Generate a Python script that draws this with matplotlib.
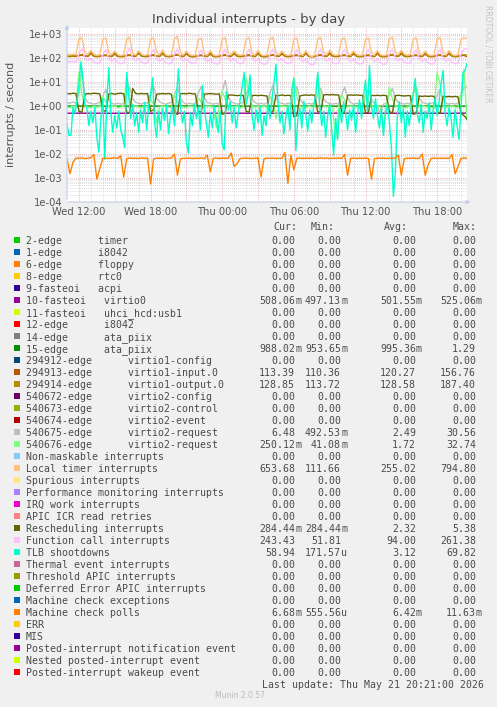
import numpy as np
import matplotlib
matplotlib.use('Agg')
import matplotlib.pyplot as plt
from matplotlib.patches import Rectangle

# ---- data (hours since Wed 00:00) ----
t15 = 11 + 0.25 * np.arange(135)      # 15 min samples
t10 = 11 + np.arange(202) / 6.0       # 10 min samples
tc = [11, 13, 15, 17, 19, 21, 23, 25, 27, 29, 31, 33, 35, 37, 39, 41, 43, 44.5]

virtio0 = [0.50, 0.502, 0.498, 0.501, 0.503, 0.499, 0.500, 0.502, 0.497,
           0.501, 0.500, 0.503, 0.499, 0.501, 0.500, 0.502, 0.498, 0.508]
ata_piix = [0.99, 1.0, 0.98, 1.0, 0.99, 1.01, 0.99, 1.0, 0.98,
            0.99, 1.0, 0.99, 1.0, 0.98, 0.99, 1.0, 0.99, 0.988]

virtio1_in = [116, 114, 117, 115,
    126, 130, 119, 115, 152, 117, 113, 116,
    123, 127, 117, 114, 145, 116, 112, 114,
    125, 129, 118, 115, 156.76, 118, 113, 115,
    124, 128, 119, 114, 148, 117, 112, 115,
    127, 133, 118, 113, 150, 116, 111, 114,
    122, 126, 117, 114, 146, 115, 112, 115,
    125, 129, 118, 115, 151, 117, 113, 116,
    123, 128, 117, 113, 149, 116, 111, 114,
    126, 130, 119, 115, 147, 117, 112, 115,
    124, 127, 118, 114, 153, 116, 110.4, 114,
    125, 129, 118, 115, 150, 117, 113, 115,
    123, 128, 117, 114, 148, 116, 112, 114,
    124, 127, 118, 113, 151, 115, 111, 114,
    126, 131, 119, 115, 149, 117, 113, 116,
    123, 128, 117, 114, 146, 116, 112, 115,
    125, 129, 118, 114, 152, 117, 112, 115,
    124, 128, 113.39]

virtio1_out = [122, 120, 124, 121,
    134, 140, 125, 120, 172, 123, 117, 121,
    131, 137, 124, 119, 168, 122, 116, 120,
    133, 139, 126, 121, 187.4, 124, 118, 122,
    132, 138, 125, 119, 170, 123, 117, 120,
    136, 143, 124, 118, 175, 122, 115, 119,
    130, 136, 123, 119, 166, 121, 116, 120,
    134, 140, 125, 120, 173, 123, 117, 121,
    131, 138, 124, 118, 169, 122, 114, 119,
    133, 139, 126, 120, 171, 124, 117, 121,
    132, 137, 125, 119, 176, 122, 113.7, 119,
    134, 140, 125, 120, 170, 123, 117, 121,
    131, 138, 124, 119, 168, 122, 116, 120,
    132, 137, 124, 118, 172, 121, 115, 119,
    135, 141, 126, 120, 174, 124, 118, 122,
    131, 137, 124, 119, 167, 122, 116, 120,
    133, 139, 125, 119, 173, 123, 117, 121,
    132, 138, 128.85]

virtio2_req_a = [1.4, 1.3, 1.5, 1.3,
    3.5, 30.56, 2.2, 1.4, 1.3, 1.2, 1.3, 1.4,
    2.5, 5.0, 1.8, 1.3, 1.2, 1.3, 1.2, 1.3,
    3.0, 6.0, 2.0, 1.4, 1.3, 1.2, 1.4, 1.3,
    3.2, 6.8, 2.1, 1.5, 1.3, 1.2, 1.3, 1.4,
    3.0, 6.0, 2.0, 1.4, 1.2, 1.3, 1.2, 1.3,
    3.5, 6.5, 2.2, 1.4, 1.3, 1.2, 1.3, 1.2,
    4.0, 11.5, 2.5, 1.5, 1.3, 1.2, 1.3, 1.4,
    3.0, 6.0, 1.9, 1.4, 1.2, 1.3, 1.2, 1.3,
    3.5, 7.2, 2.1, 1.4, 1.3, 1.2, 1.3, 1.3,
    3.0, 6.5, 2.0, 1.3, 1.2, 1.3, 1.2, 1.4,
    2.8, 5.5, 1.9, 1.4, 1.3, 1.2, 1.3, 1.2,
    3.0, 6.0, 2.2, 1.4, 1.2, 1.3, 1.2, 1.3,
    2.8, 5.0, 1.8, 1.3, 0.9, 0.49, 1.2, 1.3,
    3.0, 5.5, 2.0, 1.4, 1.3, 1.2, 1.3, 1.2,
    3.2, 6.0, 2.1, 1.4, 1.3, 1.2, 1.3, 1.4,
    2.8, 5.0, 1.9, 1.3, 1.2, 1.3, 1.2, 1.3,
    3.0, 5.5, 6.48]

virtio2_req_b = [0.9, 0.85, 1.0, 0.9,
    26, 3.0, 1.0, 0.9, 0.85, 1.0, 0.9, 0.95,
    2.5, 1.5, 0.9, 0.95, 1.0, 0.85, 0.9, 1.0,
    16, 2.0, 0.95, 1.0, 0.9, 0.85, 1.0, 0.9,
    1.8, 1.2, 0.2, 0.9, 1.0, 0.95, 0.9, 0.85,
    3.0, 1.5, 1.0, 0.9, 0.85, 1.0, 0.95, 0.9,
    2.2, 1.4, 0.9, 1.0, 0.95, 0.9, 0.12, 0.9,
    4.0, 2.0, 1.0, 0.95, 0.9, 1.0, 0.85, 0.9,
    15, 3.0, 1.0, 0.9, 0.95, 0.9, 1.0, 0.85,
    2.5, 1.6, 0.3, 0.9, 1.0, 0.95, 0.9, 1.0,
    16, 2.5, 0.95, 0.9, 0.85, 1.0, 0.9, 0.95,
    20, 2.2, 1.0, 0.9, 0.95, 0.85, 0.041, 0.9,
    3.0, 1.8, 0.9, 1.0, 0.95, 0.9, 1.0, 0.85,
    2.5, 1.5, 0.95, 0.9, 1.0, 0.9, 0.15, 0.95,
    6.0, 2.0, 1.0, 0.9, 0.95, 0.85, 0.9, 1.0,
    3.5, 6.0, 0.9, 1.0, 0.95, 0.9, 0.85, 0.9,
    25, 8.0, 1.0, 0.9, 0.95, 1.0, 0.9, 0.85,
    3.0, 32.74, 0.25]

local_timer = [150, 138, 145, 142,
    620, 700, 170, 140, 210, 145, 130, 142,
    590, 680, 165, 138, 195, 140, 126, 136,
    610, 720, 160, 132, 200, 142, 129, 140,
    600, 690, 175, 136, 215, 138, 125, 137,
    640, 794.8, 168, 134, 190, 141, 127, 139,
    580, 670, 160, 131, 205, 136, 124, 135,
    605, 700, 172, 137, 198, 144, 130, 141,
    595, 685, 158, 133, 208, 139, 126, 136,
    615, 710, 166, 135, 192, 142, 128, 138,
    590, 675, 163, 130, 200, 137, 111.7, 134,
    610, 705, 170, 136, 212, 143, 129, 140,
    600, 690, 162, 134, 196, 140, 127, 137,
    585, 680, 168, 132, 204, 138, 125, 135,
    620, 715, 174, 138, 210, 145, 131, 142,
    598, 688, 160, 133, 194, 139, 126, 136,
    612, 702, 167, 135, 202, 141, 128, 139,
    600, 695, 653.68]

resched = [3.3, 3.2, 3.4, 3.3,
    0.6, 0.55, 3.1, 3.3, 3.2, 3.4, 3.3, 3.2,
    0.65, 0.6, 3.2, 3.3, 3.1, 3.3, 3.4, 3.2,
    0.55, 0.5, 5.38, 3.3, 3.2, 3.3, 3.2, 3.3,
    0.6, 0.7, 3.1, 3.2, 3.3, 3.2, 3.3, 3.1,
    0.5, 0.45, 3.2, 3.3, 3.2, 3.4, 3.2, 3.2,
    0.6, 0.55, 3.1, 3.2, 3.3, 3.2, 3.1, 3.2,
    0.45, 0.5, 2.8, 2.9, 2.8, 2.7, 2.8, 2.8,
    0.6, 0.55, 2.7, 2.8, 2.7, 2.8, 2.7, 2.6,
    0.5, 0.6, 2.8, 2.7, 2.9, 2.7, 2.8, 2.7,
    0.35, 0.4, 2.6, 2.8, 2.9, 2.8, 2.9, 2.8,
    0.55, 0.6, 2.9, 3.0, 2.9, 3.0, 2.9, 2.9,
    0.6, 0.5, 2.8, 2.9, 2.8, 2.9, 2.8, 2.8,
    0.5, 0.55, 2.8, 2.7, 2.8, 2.7, 2.8, 2.7,
    0.6, 0.5, 2.7, 2.8, 2.7, 2.6, 2.7, 2.7,
    0.45, 0.5, 2.6, 2.5, 2.6, 2.5, 2.6, 2.5,
    0.55, 0.5, 2.5, 2.4, 2.5, 2.4, 2.5, 2.4,
    0.5, 0.4, 0.284]

func_call = [75, 70, 72, 68,
    160, 245, 100, 78, 95, 68, 60, 63,
    140, 225, 95, 74, 90, 66, 58, 61,
    155, 261.38, 98, 76, 92, 67, 59, 62,
    145, 230, 92, 73, 88, 65, 57, 60,
    150, 240, 96, 75, 94, 68, 58, 62,
    138, 220, 90, 72, 87, 64, 56, 59,
    148, 235, 94, 74, 91, 66, 57, 61,
    142, 228, 92, 73, 89, 63, 55, 58,
    152, 238, 97, 75, 93, 67, 58, 62,
    140, 222, 91, 72, 86, 62, 51.8, 57,
    150, 236, 95, 74, 92, 66, 57, 60,
    143, 228, 93, 73, 88, 64, 56, 59,
    145, 230, 94, 72, 90, 63, 55, 58,
    155, 242, 98, 76, 95, 67, 58, 62,
    140, 225, 91, 72, 87, 63, 56, 58,
    148, 234, 95, 74, 91, 65, 57, 60,
    150, 238, 243.43]

tlb = [0.18, 0.06, 0.06, 0.9, 0.5, 1.5, 8, 69.82, 12, 1.2,
       0.8, 0.15, 0.6, 0.2, 0.9, 0.05, 0.012, 0.3, 2.0, 0.006,
       1.5, 40, 0.5, 0.08, 0.4, 0.12, 0.6, 0.1, 0.05, 0.018,
       25, 3, 0.3, 1.2, 0.15, 0.5, 0.08, 0.7, 0.2, 1.4,
       0.1, 0.9, 3, 15, 0.2, 0.05, 0.6, 0.1, 0.8, 0.25,
       1.1, 0.07, 0.4, 0.9, 0.15, 2.5, 35, 1.0, 0.2, 0.6,
       0.03, 0.011, 0.5, 0.15, 1.2, 0.3, 0.9, 0.1, 7, 0.8,
       0.2, 0.05, 0.5, 0.12, 1.0, 0.3, 0.08, 0.6, 0.025, 0.015,
       4, 0.7, 1.5, 0.2, 0.9, 0.12, 0.5, 1.8, 6, 25,
       1.2, 3, 20, 0.4, 0.1, 0.7, 0.2, 1.0, 0.06, 0.4,
       0.15, 1.3, 0.3, 2, 9, 55, 1.5, 0.2, 0.6, 0.07,
       0.35, 1.1, 0.1, 5, 14, 0.014, 0.3, 0.8, 0.12, 1.6,
       0.4, 0.09, 0.7, 0.2, 1.0, 3, 25, 0.9, 0.15, 0.6,
       0.05, 0.4, 1.2, 0.1, 0.009, 0.3, 0.04, 0.8, 0.2, 1.5,
       0.5, 0.1, 0.7, 0.25, 1.1, 0.08, 0.5, 1.8, 0.3, 2.5,
       12, 0.6, 48, 1.0, 0.3, 2.0, 0.4, 0.12, 0.8, 0.06,
       0.5, 1.2, 0.2, 0.02, 0.00017, 0.0015, 0.4, 1.5, 0.2, 0.8,
       0.05, 0.6, 0.15, 1.0, 3, 14, 0.5, 0.2, 1.2, 0.08,
       0.6, 0.3, 1.4, 0.1, 0.7, 2.2, 0.4, 1.6, 9, 30,
       0.5, 0.15, 0.9, 0.3, 0.05, 0.7, 0.15, 0.04, 0.8, 25,
       30, 58.94]

mc_polls = [0.0065, 0.0015, 0.0045, 0.0068, 0.0066, 0.0069, 0.0064, 0.0067, 0.0070, 0.0095,
            0.0009, 0.0025, 0.0066, 0.0068, 0.0065, 0.0067, 0.0069, 0.0066, 0.0085, 0.0011,
            0.0064, 0.0068, 0.0066, 0.0067, 0.0065, 0.0069, 0.0066, 0.0068, 0.00056, 0.0063,
            0.0067, 0.0066, 0.0068, 0.0065, 0.0067, 0.0069, 0.0100, 0.0013, 0.0062, 0.0067,
            0.0066, 0.0068, 0.0065, 0.0067, 0.0066, 0.0069, 0.0064, 0.0090, 0.0018, 0.0066,
            0.0068, 0.0065, 0.0067, 0.0066, 0.0068, 0.0110, 0.0030, 0.0040, 0.0065, 0.0067,
            0.0068, 0.0066, 0.0065, 0.0067, 0.0069, 0.0011, 0.0063, 0.0067, 0.0066, 0.0068,
            0.0065, 0.0067, 0.0066, 0.0116, 0.0006, 0.0090, 0.0022, 0.0066, 0.0068, 0.0065,
            0.0067, 0.0066, 0.0068, 0.0065, 0.0067, 0.0069, 0.0066, 0.0068, 0.0065, 0.0067,
            0.0066, 0.0068, 0.0065, 0.0095, 0.0013, 0.0066, 0.0068, 0.0065, 0.0067, 0.0066,
            0.0068, 0.0065, 0.0009, 0.0064, 0.0067, 0.0066, 0.0068, 0.0065, 0.0067, 0.0066,
            0.0068, 0.0090, 0.0013, 0.0064, 0.0067, 0.0066, 0.0068, 0.0065, 0.0067, 0.0100,
            0.0013, 0.0035, 0.0066, 0.0068, 0.0065, 0.0067, 0.0066, 0.0068, 0.0065, 0.0095,
            0.0015, 0.0030, 0.0066, 0.0068, 0.00668]

# legend table
labels = [
    "2-edge      timer", "1-edge      i8042", "6-edge      floppy", "8-edge      rtc0",
    "9-fasteoi   acpi", "10-fasteoi   virtio0", "11-fasteoi   uhci_hcd:usb1",
    "12-edge      i8042", "14-edge      ata_piix", "15-edge      ata_piix",
    "294912-edge      virtio1-config", "294913-edge      virtio1-input.0",
    "294914-edge      virtio1-output.0", "540672-edge      virtio2-config",
    "540673-edge      virtio2-control", "540674-edge      virtio2-event",
    "540675-edge      virtio2-request", "540676-edge      virtio2-request",
    "Non-maskable interrupts", "Local timer interrupts", "Spurious interrupts",
    "Performance monitoring interrupts", "IRQ work interrupts", "APIC ICR read retries",
    "Rescheduling interrupts", "Function call interrupts", "TLB shootdowns",
    "Thermal event interrupts", "Threshold APIC interrupts",
    "Deferred Error APIC interrupts", "Machine check exceptions", "Machine check polls",
    "ERR", "MIS", "Posted-interrupt notification event",
    "Nested posted-interrupt event", "Posted-interrupt wakeup event",
]
colors = ['#00CC00', '#0066B3', '#FF8000', '#FFCC00', '#330099', '#990099', '#CCFF00',
          '#FF0000', '#808080', '#008F00', '#00487D', '#B35A00', '#B38F00', '#6B006B',
          '#8FB300', '#B30000', '#BEBEBE', '#80FF80', '#80C9FF', '#FFC080', '#FFE680',
          '#AA80FF', '#EE00CC', '#FF8080', '#666600', '#FFBFFF', '#00FFCC', '#CC6699',
          '#999900', '#00CC00', '#0066B3', '#FF8000', '#FFCC00', '#330099', '#990099',
          '#CCFF00', '#FF0000']
Z = "0.00"
cur = [Z] * 37
mins = [Z] * 37
avgs = [Z] * 37
maxs = [Z] * 37
stats = {
    5: ("508.06m", "497.13m", "501.55m", "525.06m"),
    9: ("988.02m", "953.65m", "995.36m", "1.29"),
    11: ("113.39", "110.36", "120.27", "156.76"),
    12: ("128.85", "113.72", "128.58", "187.40"),
    16: ("6.48", "492.53m", "2.49", "30.56"),
    17: ("250.12m", "41.08m", "1.72", "32.74"),
    19: ("653.68", "111.66", "255.02", "794.80"),
    24: ("284.44m", "284.44m", "2.32", "5.38"),
    25: ("243.43", "51.81", "94.00", "261.38"),
    26: ("58.94", "171.57u", "3.12", "69.82"),
    31: ("6.68m", "555.56u", "6.42m", "11.63m"),
}
for k, (a, b, c, d) in stats.items():
    cur[k], mins[k], avgs[k], maxs[k] = a, b, c, d

xtick_pos = [12, 18, 24, 30, 36, 42]
xtick_labels = ["Wed 12:00", "Wed 18:00", "Thu 00:00", "Thu 06:00", "Thu 12:00", "Thu 18:00"]

# ---- figure ----
W, H = 497, 707
fig = plt.figure(figsize=(W / 100, H / 100), dpi=100, facecolor='#F0F0F0')
ax = fig.add_axes([67 / W, 1 - 202 / H, 400 / W, 174 / H])
ax.set_facecolor('white')
ax.set_yscale('log')
ax.set_xlim(11, 44.5)
ax.set_ylim(1e-4, 10 ** 3.25)

# grid
for h in range(12, 45):
    major = h % 3 == 0
    ax.axvline(h, color='#E8A0A0' if major else '#D0D0D0', lw=0.6,
               ls=(0, (1, 1.5)), zorder=0.5 if major else 0.3)
for d in range(-4, 4):
    for m in range(1, 10):
        y = m * 10.0 ** d
        if y > 10 ** 3.25:
            continue
        ax.axhline(y, color='#E8A0A0' if m == 1 else '#D0D0D0', lw=0.6,
                   ls=(0, (1, 1.5)), zorder=0.5 if m == 1 else 0.3)

# series, in munin drawing order
series = [
    (tc, virtio0, 5), (tc, ata_piix, 9), (t15, virtio1_in, 11), (t15, virtio1_out, 12),
    (t15, virtio2_req_a, 16), (t15, virtio2_req_b, 17), (t15, local_timer, 19),
    (t15, resched, 24), (t15, func_call, 25), (t10, tlb, 26), (t15, mc_polls, 31),
]
for n, (x, y, ci) in enumerate(series):
    ax.plot(x, y, color=colors[ci], lw=1.0, zorder=2 + n * 0.01)

for s in ax.spines.values():
    s.set_visible(False)
ax.axhline(1e-4, color='#E8A0A0', lw=0.8, zorder=3)
ax.annotate('', xy=(0, 1.035), xytext=(0, 0), xycoords='axes fraction',
            arrowprops=dict(arrowstyle='-|>', color='#C4CCEE', lw=0.8, mutation_scale=6),
            annotation_clip=False)
ax.annotate('', xy=(1.016, 0), xytext=(-0.005, 0), xycoords='axes fraction',
            arrowprops=dict(arrowstyle='-|>', color='#C4CCEE', lw=0.8, mutation_scale=6),
            annotation_clip=False)

ax.set_yticks([10.0 ** d for d in range(-4, 4)])
ax.set_yticklabels(['1e-04', '1e-03', '1e-02', '1e-01', '1e+00', '1e+01', '1e+02', '1e+03'])
ax.yaxis.set_minor_locator(matplotlib.ticker.NullLocator())
ax.set_xticks(xtick_pos)
ax.set_xticklabels(xtick_labels)
ax.tick_params(length=0, labelsize=7.2, colors='#555555', pad=3.5)


def P(x, y):
    return x / W, 1 - y / H


fig.text(*P(248.5, 19), "Individual interrupts - by day", ha='center', va='center',
         fontsize=9.5, color='#444444')
fig.text(*P(11, 114), "interrupts / second", rotation=90, ha='center', va='center',
         fontsize=8, color='#555555')
fig.text(*P(488, 5), "RRDTOOL / TOBI OETIKER", rotation=270, ha='center', va='top',
         fontsize=5.5, color='#C4C4C4')

mono = dict(family='DejaVu Sans Mono', fontsize=7.1, color='#4a4a4a', va='center_baseline')
for xr, hdr in [(297, "Cur:"), (335, "Min:"), (408, "Avg:"), (477, "Max:")]:
    fig.text(*P(xr, 226), hdr, ha='right', **mono)

cols = [(295, cur), (341, mins), (416, avgs), (476, maxs)]
for i, lab in enumerate(labels):
    y = 240 + 12 * i
    fig.add_artist(Rectangle(P(14, y + 3), 6 / W, 6 / H, transform=fig.transFigure,
                             facecolor=colors[i], edgecolor='none'))
    fig.text(*P(26, y), lab, ha='left', **mono)
    for xr, vals in cols:
        v = vals[i]
        if v[-1].isalpha():
            fig.text(*P(xr, y), v[:-1], ha='right', **mono)
            fig.text(*P(xr, y), v[-1], ha='left', **mono)
        else:
            fig.text(*P(xr, y), v, ha='right', **mono)

fig.text(*P(484, 684), "Last update: Thu May 21 20:21:00 2026", ha='right', **mono)
fig.text(*P(240, 696), "Munin 2.0.57", ha='center', va='center', fontsize=5.5,
         color='#BBBBBB')

fig.savefig('out.png', dpi=100, facecolor=fig.get_facecolor())
